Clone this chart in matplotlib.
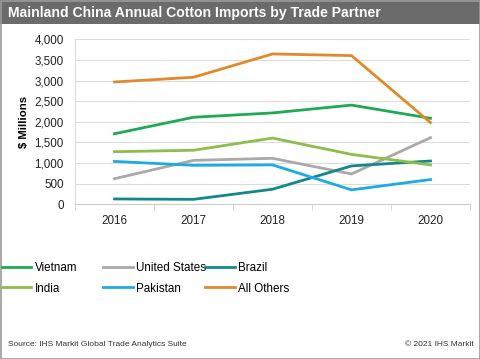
import numpy as np
import matplotlib
matplotlib.use("Agg")
import matplotlib.pyplot as plt
from matplotlib.patches import Rectangle

plt.rcParams['font.family'] = ['Liberation Sans', 'DejaVu Sans']

years = ["2016", "2017", "2018", "2019", "2020"]
vietnam = [1710, 2110, 2215, 2405, 2085]
united_states = [620, 1065, 1115, 735, 1615]
brazil = [130, 120, 365, 930, 1050]
india = [1275, 1310, 1605, 1210, 955]
pakistan = [1040, 945, 955, 350, 600]
all_others = [2965, 3080, 3645, 3605, 1980]

names = ["Vietnam", "United States", "Brazil", "India", "Pakistan", "All Others"]
series = [vietnam, united_states, brazil, india, pakistan, all_others]
colors = ["#1eaa55", "#a9a9a9", "#14878c", "#8dbd4a", "#1cace0", "#e08a2c"]

W, H = 480, 359
fig = plt.figure(figsize=(4.8, 3.59), dpi=100)

# grey title bar and frame
fig.patches.append(Rectangle((0, 1 - 24 / H), 1, 24 / H, transform=fig.transFigure,
                             facecolor="#6b6b6b", edgecolor="none", zorder=0))
fig.patches.append(Rectangle((0.5 / W, 0.5 / H), 1 - 1 / W, 1 - 1 / H, transform=fig.transFigure,
                             facecolor="none", edgecolor="#9a9a9a", lw=1.2, zorder=5))
fig.text(8 / W, 1 - 12.5 / H, "Mainland China Annual Cotton Imports by Trade Partner",
         color="white", fontsize=10.1, fontweight="bold", va="center", ha="left")

ax = fig.add_axes([75 / W, 1 - 204.3 / H, 395 / W, 165 / H])
x = np.arange(len(years))
lines = []
for name, vals, c in zip(names, series, colors):
    ln, = ax.plot(x, vals, color=c, lw=2, label=name, solid_joinstyle="miter")
    lines.append(ln)

ax.set_xlim(-0.5, len(years) - 0.5)
ax.set_ylim(0, 4000)
ax.set_yticks(np.arange(0, 4001, 500))
ax.set_yticklabels([f"{v:,}" for v in range(0, 4001, 500)])
ax.set_xticks(x)
ax.set_xticklabels(years)
ax.set_xticks(np.arange(-0.5, len(years)), minor=True)
ax.tick_params(axis="x", which="major", length=0, pad=8, labelsize=8.4, colors="#222222")
ax.tick_params(axis="x", which="minor", length=4, color="#cccccc")
ax.tick_params(axis="y", length=0, pad=8, labelsize=8.4, colors="#222222")
ax.grid(axis="y", color="#dcdcdc", lw=0.8)
ax.set_axisbelow(True)
for s in ["top", "right"]:
    ax.spines[s].set_visible(False)
ax.spines["left"].set_color("#dddddd")
ax.spines["bottom"].set_color("#cccccc")
ax.set_ylabel("$ Millions", fontsize=8.2, fontweight="bold", labelpad=4)

# legend: three columns of two entries
cols = [(0, 3), (1, 4), (2, 5)]
col_x = [0, 101, 203]
for (a, b), cx in zip(cols, col_x):
    fig.legend([lines[a], lines[b]], [names[a], names[b]], loc="upper left",
               bbox_to_anchor=(cx / W, 1 - 260 / H), frameon=False, fontsize=8.4,
               handlelength=2.5, handletextpad=0.3, labelspacing=0.7,
               borderaxespad=0, borderpad=0.2)

fig.text(8 / W, 1 - 344.5 / H, "Source: IHS Markit Global Trade Analytics Suite",
         fontsize=6, color="#333333", va="center", ha="left")
fig.text(1 - 6 / W, 1 - 344.5 / H, "\u00a9 2021 IHS Markit",
         fontsize=6, color="#333333", va="center", ha="right")

fig.savefig("out.png", dpi=100)
